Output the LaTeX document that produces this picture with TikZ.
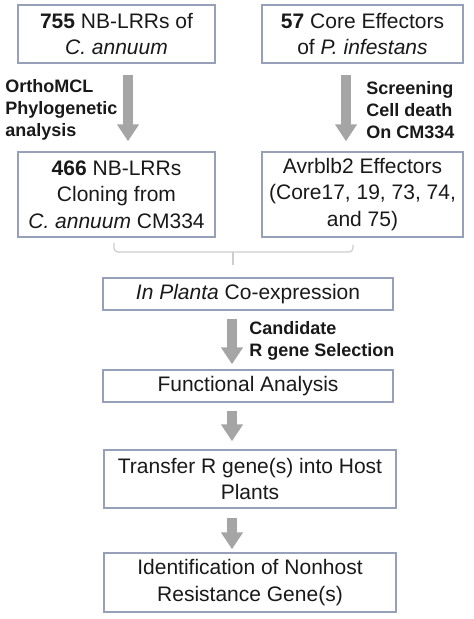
\documentclass[tikz,border=0pt]{standalone}
\usepackage{fontspec}
\setmainfont{Liberation Sans}
\usetikzlibrary{calc, positioning, arrows.meta}
\definecolor{BoxEdge}{RGB}{150, 160, 185}
\definecolor{ArrowGrey}{RGB}{165, 165, 165}
\definecolor{BraceGrey}{RGB}{205, 205, 205}
\definecolor{TextDark}{RGB}{25, 25, 25}

\tikzset{
  stepbox/.style={draw=BoxEdge, line width=0.7pt, align=center, inner sep=0pt,
    text=TextDark, font=\fontsize{10.5}{13.2}\selectfont},
  flow/.style={ArrowGrey, line width=5pt, -{Triangle[width=10.5pt, length=8.5pt]}},
  note/.style={anchor=west, align=left, inner sep=0pt, text=TextDark,
    font=\bfseries\fontsize{9}{10.85}\selectfont}
}

\begin{document}
\begin{tikzpicture}[x=0.5pt, y=-0.5pt]
    \useasboundingbox (0,0) rectangle (474,619);

    % Fila superior
    \node[stepbox, minimum width=98.5pt, minimum height=29pt] (nlrr) at (116.5,34)
        {\textbf{755} NB-LRRs of\\\textit{C. annuum}};
    \node[stepbox, minimum width=100.5pt, minimum height=29pt] (core) at (362.5,34)
        {\textbf{57} Core Effectors\\of \textit{P. infestans}};

    % Segunda fila
    \node[stepbox, minimum width=98.5pt, minimum height=42.5pt] (clone) at (116.5,194.5)
        {\textbf{466} NB-LRRs\\Cloning from\\\textit{C. annuum} CM334};
    \node[stepbox, minimum width=100.5pt, minimum height=42.5pt] (avr) at (362.5,194.5)
        {Avrblb2 Effectors\\(Core17, 19, 73, 74,\\and 75)};

    % Flechas superiores
    \coordinate (a1) at ($(nlrr.south)+(11.5,0)$);
    \draw[flow, shorten <=5.5pt, shorten >=5pt] (a1) -- (a1 |- clone.north);
    \coordinate (a2) at ($(core.south)+(-16.5,0)$);
    \draw[flow, shorten <=5.5pt, shorten >=5pt] (a2) -- (a2 |- avr.north);
    \node[note] (ortho) at (5,110) {OrthoMCL\\Phylogenetic\\analysis};
    \node[note] (screen) at (366,110) {Screening\\Cell death\\On CM334};

    % Llave
    \draw[BraceGrey, line width=0.6pt, rounded corners=2pt]
        (114,243) |- (233,252) -| (353,245);
    \draw[BraceGrey, line width=0.6pt] (233,252) -- (233,265);

    % Columna central
    \node[stepbox, minimum width=145pt, minimum height=16pt] (coexp) at (248,294)
        {\textit{In Planta} Co-expression};
    \node[stepbox, minimum width=145pt, minimum height=16pt] (func) at (248,386)
        {Functional Analysis};
    \node[stepbox, minimum width=146pt, minimum height=29pt] (transfer) at (250,479)
        {Transfer R gene(s) into Host\\Plants};
    \node[stepbox, minimum width=146pt, minimum height=29.5pt] (ident) at (250,582.5)
        {Identification of Nonhost\\Resistance Gene(s)};

    % Flechas centrales
    \coordinate (a3) at ($(coexp.south)+(-16,0)$);
    \draw[flow, shorten <=4pt, shorten >=2.5pt] (a3) -- (a3 |- func.north);
    \coordinate (a4) at ($(func.south)+(-16,0)$);
    \draw[flow, shorten <=4pt, shorten >=4pt] (a4) -- (a4 |- transfer.north);
    \coordinate (a5) at ($(transfer.south)+(-18,0)$);
    \draw[flow, shorten <=4.5pt, shorten >=1.5pt] (a5) -- (a5 |- ident.north);
    \node[note] (cand) at (249,341) {Candidate\\R gene Selection};
\end{tikzpicture}
\end{document}
